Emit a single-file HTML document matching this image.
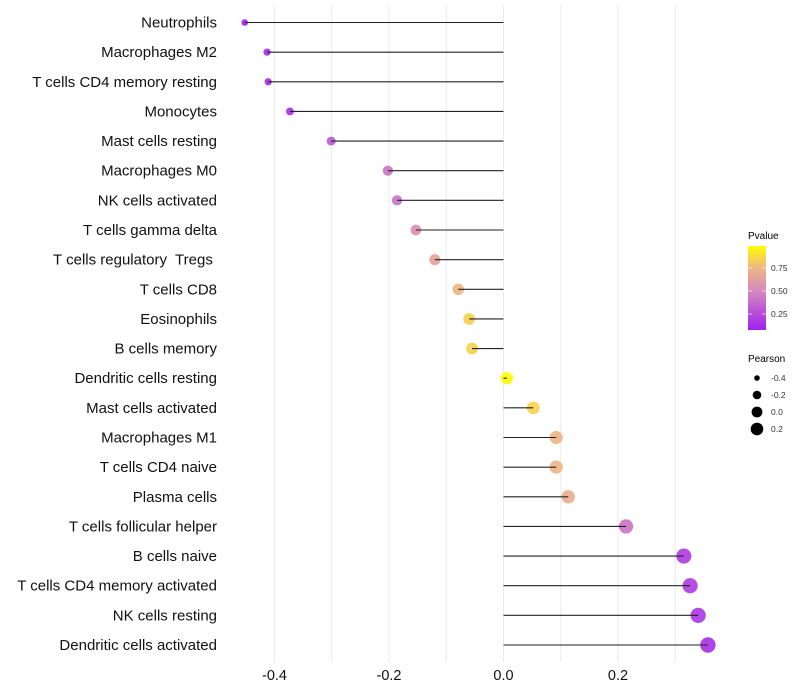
<!DOCTYPE html>
<html><head><meta charset="utf-8"><style>
body{margin:0;background:#fff;}
svg{display:block;font-family:"Liberation Sans",sans-serif;}
#ylab text{white-space:pre;}
</style></head><body>
<svg id="chart" width="800" height="700">
<defs>
<linearGradient id="pg" x1="0" y1="1" x2="0" y2="0">
<stop offset="0" stop-color="#a020f0"/>
<stop offset="0.45" stop-color="#d486c0"/>
<stop offset="0.75" stop-color="#efb882"/>
<stop offset="1" stop-color="#ffff00"/>
</linearGradient>
</defs>
<g id="grid"></g>
<g id="marks"></g>
<g id="ylab"></g>
<g id="xlab"></g>
<g>
<text x="748" y="239" font-size="10">Pvalue</text>
<rect x="748" y="246" width="18" height="84" fill="url(#pg)"/>
<line x1="748" x2="752" y1="268" y2="268" stroke="#fff" opacity="0.6"/><line x1="762" x2="766" y1="268" y2="268" stroke="#fff" opacity="0.6"/>
<line x1="748" x2="752" y1="291" y2="291" stroke="#fff" opacity="0.6"/><line x1="762" x2="766" y1="291" y2="291" stroke="#fff" opacity="0.6"/>
<line x1="748" x2="752" y1="314" y2="314" stroke="#fff" opacity="0.6"/><line x1="762" x2="766" y1="314" y2="314" stroke="#fff" opacity="0.6"/>
<text x="771" y="271" font-size="8.5" fill="#333">0.75</text>
<text x="771" y="294" font-size="8.5" fill="#333">0.50</text>
<text x="771" y="317" font-size="8.5" fill="#333">0.25</text>
</g>
<g>
<text x="748" y="362" font-size="10">Pearson</text>
<circle cx="757" cy="378" r="2.8" fill="#000"/><text x="771" y="381" font-size="8.5" fill="#333">-0.4</text>
<circle cx="757" cy="395" r="4.3" fill="#000"/><text x="771" y="398" font-size="8.5" fill="#333">-0.2</text>
<circle cx="757" cy="412" r="5.4" fill="#000"/><text x="771" y="415" font-size="8.5" fill="#333">0.0</text>
<circle cx="757" cy="429" r="6.3" fill="#000"/><text x="771" y="432" font-size="8.5" fill="#333">0.2</text>
</g>
</svg>
<script>
const cells=["Neutrophils","Macrophages M2","T cells CD4 memory resting","Monocytes","Mast cells resting","Macrophages M0","NK cells activated","T cells gamma delta","T cells regulatory  Tregs ","T cells CD8","Eosinophils","B cells memory","Dendritic cells resting","Mast cells activated","Macrophages M1","T cells CD4 naive","Plasma cells","T cells follicular helper","B cells naive","T cells CD4 memory activated","NK cells resting","Dendritic cells activated"];
const pearson=[-0.452,-0.413,-0.411,-0.373,-0.301,-0.202,-0.186,-0.153,-0.120,-0.079,-0.060,-0.055,0.006,0.052,0.092,0.092,0.113,0.214,0.315,0.326,0.340,0.357];
const pvalue=[0.08,0.12,0.12,0.15,0.3,0.42,0.42,0.55,0.65,0.75,0.85,0.85,0.98,0.85,0.75,0.75,0.7,0.42,0.2,0.2,0.18,0.15];
const xTicks=[-0.4,-0.2,0.0,0.2];
const xGrid=[-0.4,-0.3,-0.2,-0.1,0,0.1,0.2,0.3];
const NS="http://www.w3.org/2000/svg";
const x=v=>503.5+v*572.5;
const y=i=>22.5+i*(645-22.5)/(cells.length-1);
const stops=[[0,[160,32,240]],[0.45,[212,134,192]],[0.75,[239,184,130]],[1,[255,255,0]]];
function col(p){let t=(p-0.076)/(0.99-0.076);t=Math.max(0,Math.min(1,t));
for(let k=1;k<stops.length;k++){if(t<=stops[k][0]){const a=stops[k-1],b=stops[k];const f=(t-a[0])/(b[0]-a[0]);
return "rgb("+a[1].map((c,j)=>Math.round(c+(b[1][j]-c)*f)).join(",")+")";}}return "rgb(255,255,0)";}
const rad=v=>Math.sqrt(Math.max(2,38+60*v));
function mk(tag,attrs,parent){const e=document.createElementNS(NS,tag);for(const k in attrs)e.setAttribute(k,attrs[k]);document.getElementById(parent).appendChild(e);return e;}
xGrid.forEach(v=>{const l=mk("line",{x1:x(v),x2:x(v),y1:5,y2:662,stroke:"#ebebeb","stroke-width":1},"grid");

});
cells.forEach((c,i)=>{
const p=mk("circle",{cx:x(pearson[i]),cy:y(i),r:rad(pearson[i]),fill:col(pvalue[i]),opacity:0.92},"marks");


const s=mk("line",{x1:x(0),x2:x(pearson[i]),y1:y(i),y2:y(i),stroke:"#222","stroke-width":1.1},"marks");


const t=mk("text",{x:217,y:y(i)+5,"text-anchor":"end","font-size":15,fill:"#111","xml:space":"preserve"},"ylab");
t.textContent=c;

});
xTicks.forEach(v=>{const t=mk("text",{x:x(v),y:680,"text-anchor":"middle","font-size":14.5,fill:"#111"},"xlab");
t.textContent=v.toFixed(1);

});
</script>
</body></html>
